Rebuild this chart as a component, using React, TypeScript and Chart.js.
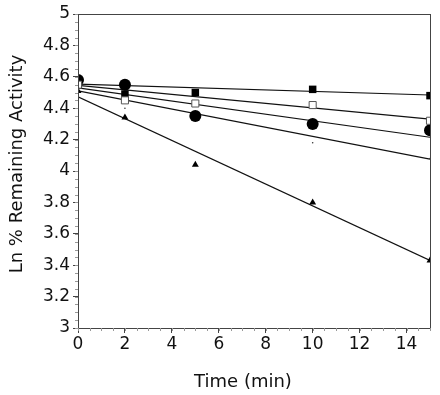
import React, { useEffect, useRef } from "react";
import { Chart, registerables } from "chart.js";

Chart.register(...registerables);

const time = [0, 2, 5, 10, 15];
const filledSquare = [4.55, 4.49, 4.5, 4.52, 4.48];
const openSquare = [4.55, 4.45, 4.43, 4.42, 4.32];
const filledCircle = [4.58, 4.55, 4.35, 4.3, 4.26];
const smallDots = [4.52, 4.4, 4.33, 4.18, 4.08];
const triangle = [4.51, 4.34, 4.04, 3.8, 3.43];

const fitX = [0, 15];
const fitFilledSquare = [4.553, 4.484];
const fitOpenSquare = [4.545, 4.33];
const fitFilledCircle = [4.53, 4.215];
const fitSmallDots = [4.51, 4.076];
const fitTriangle = [4.473, 3.43];

const xTickValues = [0, 2, 4, 6, 8, 10, 12, 14];
const xTitle = "Time (min)";
const yTitle = "Ln % Remaining Activity";

const FONT = "'DejaVu Sans', 'Liberation Sans', Arial, sans-serif";

const pts = (xs: number[], ys: number[]) => xs.map((x, i) => ({ x, y: ys[i] }));

const framePlugin = {
  id: "frameMinor",
  afterDraw(chart: any) {
    const { ctx, chartArea, scales } = chart;
    const { left, right, top, bottom } = chartArea;
    ctx.save();
    ctx.strokeStyle = "#444";
    ctx.lineWidth = 1;
    ctx.strokeRect(left + 0.5, top + 0.5, right - left, bottom - top);
    // minor ticks
    ctx.strokeStyle = "#999";
    ctx.beginPath();
    for (let v = 3; v <= 5.0001; v += 0.05) {
      const y = Math.round(scales.y.getPixelForValue(v)) + 0.5;
      ctx.moveTo(left, y);
      ctx.lineTo(left - 3, y);
    }
    for (let v = 0; v <= 15.0001; v += 0.5) {
      const x = Math.round(scales.x.getPixelForValue(v)) + 0.5;
      ctx.moveTo(x, bottom);
      ctx.lineTo(x, bottom + 3);
    }
    ctx.stroke();
    // axis titles
    ctx.fillStyle = "#111";
    ctx.font = `18px ${FONT}`;
    ctx.textAlign = "center";
    ctx.textBaseline = "alphabetic";
    ctx.fillText(xTitle, 243, 387);
    ctx.translate(22, 164);
    ctx.rotate(-Math.PI / 2);
    ctx.fillText(yTitle, 0, 0);
    ctx.restore();
  },
};

export default function App() {
  const ref = useRef<HTMLCanvasElement>(null);
  useEffect(() => {
    if (!ref.current) return;
    const fitStyle = {
      type: "line" as const,
      borderColor: "#111",
      borderWidth: 1.2,
      pointRadius: 0,
      showLine: true,
      fill: false,
      order: 2,
    };
    const chart = new Chart(ref.current, {
      type: "scatter",
      data: {
        datasets: [
          { ...fitStyle, data: pts(fitX, fitFilledSquare) },
          { ...fitStyle, data: pts(fitX, fitOpenSquare) },
          { ...fitStyle, data: pts(fitX, fitFilledCircle) },
          { ...fitStyle, data: pts(fitX, fitSmallDots) },
          { ...fitStyle, data: pts(fitX, fitTriangle) },
          {
            data: pts(time, filledCircle),
            pointStyle: "circle",
            pointRadius: 6,
            backgroundColor: "#000",
            borderColor: "#000",
            borderWidth: 0,
            order: 1,
          },
          {
            data: pts(time, filledSquare),
            pointStyle: "rect",
            pointRadius: 5.3,
            backgroundColor: "#000",
            borderColor: "#000",
            borderWidth: 0,
            order: 1,
          },
          {
            data: pts(time, openSquare),
            pointStyle: "rect",
            pointRadius: 5,
            backgroundColor: "#fff",
            borderColor: "#555",
            borderWidth: 1,
            order: 0,
          },
          {
            data: pts(time, smallDots),
            pointStyle: "circle",
            pointRadius: 0.8,
            backgroundColor: "#333",
            borderWidth: 0,
            order: 1,
          },
          {
            data: pts(time, triangle),
            pointStyle: "triangle",
            pointRadius: 4,
            backgroundColor: "#000",
            borderColor: "#000",
            borderWidth: 0,
            order: 1,
          },
        ] as any,
      },
      options: {
        animation: false,
        responsive: false,
        events: [],
        layout: { padding: { top: 14, right: 10, left: 0, bottom: 0 } },
        plugins: { legend: { display: false }, tooltip: { enabled: false } },
        scales: {
          x: {
            type: "linear",
            min: 0,
            max: 15,
            afterFit: (s: any) => {
              s.height = 67;
            },
            afterBuildTicks: (s: any) => {
              s.ticks = xTickValues.map((v) => ({ value: v }));
            },
            ticks: {
              color: "#111",
              font: { family: FONT, size: 17 },
              padding: 1,
              maxRotation: 0,
            },
            grid: { drawOnChartArea: false, tickLength: 5, color: "#444" },
            border: { color: "#444" },
          },
          y: {
            type: "linear",
            min: 3,
            max: 5,
            afterFit: (s: any) => {
              s.width = 78;
            },
            ticks: {
              stepSize: 0.2,
              color: "#111",
              font: { family: FONT, size: 17 },
              padding: 3,
              callback: (v: any) => String(Math.round(Number(v) * 10) / 10),
            },
            grid: { drawOnChartArea: false, tickLength: 5, color: "#444" },
            border: { color: "#444" },
          },
        },
      },
      plugins: [framePlugin],
    } as any);
    return () => chart.destroy();
  }, []);
  return (
    <div style={{ position: "fixed", left: 0, top: 0, width: 440, height: 395, background: "#fff" }}>
      <canvas ref={ref} width={440} height={395} style={{ width: 440, height: 395 }} />
    </div>
  );
}
